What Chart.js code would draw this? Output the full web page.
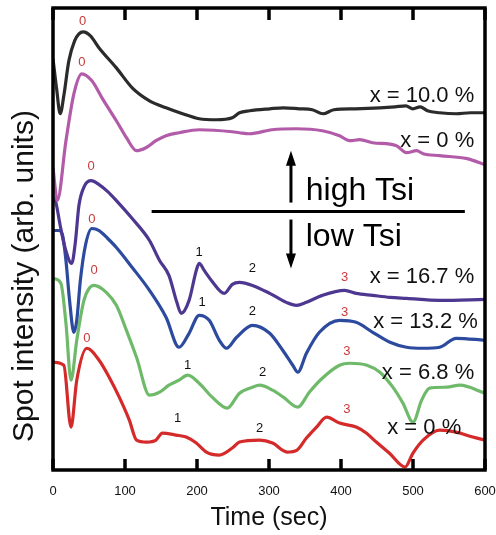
<!DOCTYPE html>
<html>
<head>
<meta charset="utf-8">
<script src="https://cdn.jsdelivr.net/npm/chart.js@4.4.1/dist/chart.umd.min.js"></script>
<style>
  html, body { margin: 0; padding: 0; background: #fff; }
  #wrap { width: 496px; height: 535px; }
</style>
</head>
<body>
<div id="wrap"><canvas id="chart" width="496" height="535"></canvas></div>
<script>
// time (sec) and intensity (arb. units), one pair per curve
const tBlack = [0, 5, 10, 15, 22, 30, 36, 42, 52, 64, 88, 110, 134, 157, 180, 203, 227, 249, 259, 273, 301, 320, 342, 360, 375, 390, 420, 454, 475, 490, 500, 510, 520, 537, 560, 580, 600];
const vBlack = [412, 382, 357, 375, 410, 430, 437, 439, 435, 423, 403, 383, 370, 363, 357, 352, 351, 353, 358, 360, 362, 363, 362, 361, 357, 361, 362, 363, 364, 365, 362, 364, 360, 358, 357, 358, 358];

const tMagenta = [0, 6, 18, 29, 40, 54, 68, 88, 102, 116, 129, 143, 157, 175, 203, 249, 259, 273, 304, 338, 374, 398, 412, 426, 444, 477, 491, 505, 514, 537, 575, 600];
const vMagenta = [303, 270, 330, 377, 397, 390, 373, 350, 333, 320, 323, 330, 335, 338, 341, 339, 338, 337, 341, 342, 340, 335, 330, 331, 328, 325, 318, 320, 317, 315, 312, 306];

const tPurple = [0, 4, 10, 17, 26, 31, 36, 44, 53, 64, 76, 88, 110, 134, 148, 161, 172, 178, 189, 199, 203, 210, 220, 238, 249, 259, 277, 301, 324, 338, 352, 374, 405, 421, 444, 468, 491, 537, 600];
const vPurple = [273, 268, 245, 222, 207, 228, 265, 285, 290, 286, 279, 270, 252, 230, 210, 195, 168, 157, 170, 200, 207, 200, 190, 177, 186, 188, 185, 177, 168, 165, 168, 175, 180, 177, 175, 173, 172, 170, 171];

const tBlue = [0, 8, 13, 18, 23, 29, 33, 38, 45, 54, 64, 76, 88, 110, 134, 157, 175, 189, 203, 217, 231, 241, 255, 277, 301, 319, 333, 340, 352, 370, 398, 421, 444, 468, 491, 514, 537, 560, 600];
const vBlue = [240, 240, 236, 210, 170, 138, 150, 190, 225, 242, 240, 232, 223, 203, 180, 153, 123, 137, 155, 150, 130, 122, 133, 145, 137, 120, 105, 98, 117, 138, 150, 148, 138, 128, 123, 122, 123, 132, 130];

const tGreen = [1, 11, 18, 25, 33, 43, 57, 74, 88, 102, 116, 134, 148, 161, 175, 187, 203, 221, 242, 259, 277, 287, 305, 320, 340, 356, 374, 398, 412, 436, 454, 472, 486, 500, 512, 523, 547, 565, 600];
const vGreen = [192, 187, 147, 90, 130, 170, 185, 178, 165, 140, 113, 75, 78, 85, 90, 95, 87, 73, 62, 77, 83, 85, 80, 73, 63, 78, 92, 105, 107, 105, 98, 83, 67, 48, 70, 82, 83, 85, 77];

const tRed = [1, 15, 25, 33, 47, 64, 78, 92, 106, 116, 130, 143, 152, 171, 185, 199, 213, 231, 249, 259, 287, 305, 325, 339, 352, 366, 380, 398, 421, 435, 449, 467, 489, 500, 514, 537, 560, 583, 600];
const vRed = [108, 105, 43, 90, 122, 110, 93, 73, 50, 30, 28, 30, 37, 35, 33, 27, 18, 15, 22, 28, 30, 27, 18, 20, 32, 43, 53, 47, 43, 37, 28, 17, 3, 17, 30, 40, 38, 33, 30];

const xTicks = [0, 100, 200, 300, 400, 500, 600];

const seriesNames = ['x = 10.0 %', 'x = 0 %', 'x = 16.7 %', 'x = 13.2 %', 'x = 6.8 %', 'x = 0 %'];
const seriesColors = ['#2b2b2b', '#b25ca9', '#4e3791', '#2c4a9e', '#6fba6a', '#d42a2a'];

// peak markers: text, time, intensity
const peakText = ['0', '0', '0', '0', '0', '0', '1', '1', '1', '1', '2', '2', '2', '2', '3', '3', '3', '3'];
const peakT = [41, 40, 53, 54, 57, 47, 203, 207, 187, 173, 277, 277, 291, 287, 405, 405, 408, 408];
const peakV = [450, 408, 304, 251, 200, 132, 218, 168, 105, 52, 202, 159, 98, 42, 193, 158, 119, 61];

// where each curve's name sits (right edge time, centre intensity)
const nameT = [585, 585, 585, 590, 585, 567];
const nameV = [375, 330, 193, 148, 97, 42];

const FONT = '"Liberation Sans", Arial, Helvetica, sans-serif';
const RED_TXT = '#c93a3a';

function pts(ts, vs) {
    return ts.map((t, i) => ({ x: t, y: vs[i] }));
}

const curves = [[tBlack, vBlack], [tMagenta, vMagenta], [tPurple, vPurple], [tBlue, vBlue], [tGreen, vGreen], [tRed, vRed]];

function drawText(ctx, s, x, y, size, color, align, baseline) {
    ctx.save();
    ctx.font = size + 'px ' + FONT;
    ctx.fillStyle = color;
    ctx.textAlign = align || 'center';
    ctx.textBaseline = baseline || 'middle';
    ctx.fillText(s, x, y);
    ctx.restore();
}

function arrow(ctx, x, y0, y1) {
    // shaft from y0 to tip y1
    const dir = y1 < y0 ? -1 : 1;
    ctx.beginPath();
    ctx.moveTo(x, y0);
    ctx.lineTo(x, y1 - dir * 12);
    ctx.lineWidth = 3;
    ctx.stroke();
    ctx.beginPath();
    ctx.moveTo(x, y1);
    ctx.lineTo(x - 5, y1 - dir * 15);
    ctx.lineTo(x + 5, y1 - dir * 15);
    ctx.closePath();
    ctx.fill();
}

const decor = {
    id: 'decor',
    afterDatasetsDraw(chart) {
        const { ctx, chartArea: a, scales: { x, y } } = chart;
        ctx.save();
        ctx.strokeStyle = '#000';
        ctx.fillStyle = '#000';

        // frame
        ctx.lineWidth = 3.5;
        ctx.strokeRect(a.left, a.top, a.right - a.left, a.bottom - a.top);

        // inward ticks top and bottom
        xTicks.forEach(t => {
            const px = x.getPixelForValue(t);
            ctx.beginPath();
            ctx.moveTo(px, a.bottom);
            ctx.lineTo(px, a.bottom - 11);
            ctx.moveTo(px, a.top);
            ctx.lineTo(px, a.top + 12);
            ctx.stroke();
        });

        // high / low Tsi divider
        const vDiv = 259;
        ctx.lineWidth = 3;
        ctx.beginPath();
        ctx.moveTo(x.getPixelForValue(137), y.getPixelForValue(vDiv));
        ctx.lineTo(x.getPixelForValue(572), y.getPixelForValue(vDiv));
        ctx.stroke();
        const ax = x.getPixelForValue(330.5);
        arrow(ctx, ax, y.getPixelForValue(268), y.getPixelForValue(320));
        arrow(ctx, ax, y.getPixelForValue(251), y.getPixelForValue(202));
        drawText(ctx, 'high Tsi', x.getPixelForValue(351), y.getPixelForValue(271), 32, '#000', 'left', 'alphabetic');
        drawText(ctx, 'low Tsi', x.getPixelForValue(351), y.getPixelForValue(224), 32, '#000', 'left', 'alphabetic');

        // peak numbers
        peakText.forEach((s, i) => {
            const c = (s === '0' || s === '3') ? RED_TXT : '#111';
            drawText(ctx, s, x.getPixelForValue(peakT[i]), y.getPixelForValue(peakV[i]), 13, c);
        });

        // curve names
        seriesNames.forEach((s, i) => {
            drawText(ctx, s, x.getPixelForValue(nameT[i]), y.getPixelForValue(nameV[i]), 22, '#111', 'right');
        });
        ctx.restore();
    },
    afterDraw(chart) {
        const { ctx, chartArea: a } = chart;
        drawText(ctx, 'Time (sec)', (a.left + a.right) / 2, 525, 25, '#111', 'center', 'alphabetic');
        ctx.save();
        ctx.translate(33, 276);
        ctx.rotate(-Math.PI / 2);
        drawText(ctx, 'Spot intensity (arb. units)', 0, 0, 30, '#111', 'center', 'alphabetic');
        ctx.restore();
    }
};

new Chart(document.getElementById('chart'), {
    type: 'line',
    data: {
        datasets: curves.map((c, i) => ({
            label: seriesNames[i],
            data: pts(c[0], c[1]),
            borderColor: seriesColors[i],
            borderWidth: 3.2,
            pointRadius: 0,
            cubicInterpolationMode: 'monotone',
            fill: false
        }))
    },
    options: {
        responsive: false,
        animation: false,
        layout: { padding: { left: 53, right: 11, top: 8, bottom: 0 } },
        plugins: { legend: { display: false }, tooltip: { enabled: false } },
        scales: {
            x: {
                type: 'linear',
                min: 0,
                max: 600,
                grid: { display: false },
                border: { display: false },
                ticks: {
                    stepSize: 100,
                    padding: 6,
                    color: '#111',
                    font: { family: FONT, size: 13 }
                },
                afterFit(s) {
                    s.height = 65;
                    s.paddingLeft = 0;
                    s.paddingRight = 0;
                }
            },
            y: {
                display: false,
                min: 0,
                max: 463
            }
        }
    },
    plugins: [decor]
});
</script>
</body>
</html>
